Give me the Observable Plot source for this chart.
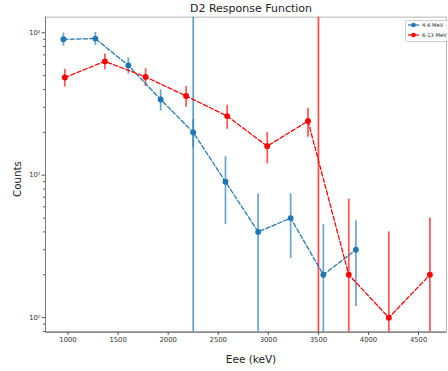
<!DOCTYPE html>
<html>
<head>
<meta charset="utf-8">
<script src="https://cdn.jsdelivr.net/npm/d3@7"></script>
<script src="https://cdn.jsdelivr.net/npm/@observablehq/plot@0.6"></script>
<style>
  html, body { margin: 0; padding: 0; background: white; overflow: hidden; }
  #wrap { position: relative; width: 448px; height: 371px; overflow: hidden; font-family: "DejaVu Sans", sans-serif; }
  #chart { position: absolute; left: 0; top: 0; }
  .lbl { position: absolute; color: #222; white-space: nowrap; }
  #title { left: 0; width: 502px; top: 2px; text-align: center; font-size: 11px; }
  #xlabel { left: 0; width: 502px; top: 353px; text-align: center; font-size: 10.5px; }
  #ylabel { left: 17px; top: 179px; font-size: 10.3px; transform: translate(-50%, -50%) rotate(-90deg); }
  #legend { position: absolute; left: 405px; top: 20px; width: 70px; height: 20px; border: 1px solid #d0d0d0; border-radius: 2px; background: rgba(255,255,255,0.8); font-size: 5.2px; color: #222; }
  .row { position: absolute; left: 1px; height: 8px; display: flex; align-items: center; }
  .row span { margin-left: 2px; }
</style>
</head>
<body>
<div id="wrap">
  <div id="chart"></div>
  <div id="title" class="lbl">D2 Response Function</div>
  <div id="xlabel" class="lbl">Eee (keV)</div>
  <div id="ylabel" class="lbl">Counts</div>
  <div id="legend"></div>
</div>
<script>
// ---- data ----
const seriesNames = ["4-6 MeV", "6-13 MeV"];
const seriesColors = ["#1f77b4", "#ff0000"];

const blueX   = [954, 1273, 1602, 1925, 2250, 2572, 2898, 3223, 3549, 3874];
const blueY   = [90, 91, 59, 34, 20, 9, 4, 5, 2, 3];
const blueErr = [9.5, 9.5, 7.7, 5.8, 4.5, 4.5, 3.4, 2.4, 2.5, 1.8];

const redX    = [968, 1368, 1774, 2179, 2589, 2989, 3396, 3803, 4203, 4613];
const redY    = [48.5, 63, 49, 36, 26, 16, 24, 2, 1, 2];
const redErr  = [6.9, 7.9, 7, 6, 5, 4, 5.5, 4.8, 3, 3];

const vlineX      = [2250, 3500];
const vlineSeries = ["4-6 MeV", "6-13 MeV"];

const xDomain = [775, 4779];
const yDomain = [0.792, 128.8];
const xTicks = [1000, 1500, 2000, 2500, 3000, 3500, 4000, 4500];
const yTicks = [1, 10, 100];
const yTickLabels = ["10\u2070", "10\u00b9", "10\u00b2"];
const yMinorTicks = [0.8, 0.9, 2, 3, 4, 5, 6, 7, 8, 9, 20, 30, 40, 50, 60, 70, 80, 90];

// ---- build table ----
const rows = [];
function addSeries(name, xs, ys, es) {
  xs.forEach((x, i) => rows.push({
    series: name, x, y: ys[i],
    lo: Math.max(ys[i] - es[i], 1e-3),
    hi: ys[i] + es[i]
  }));
}
addSeries(seriesNames[0], blueX, blueY, blueErr);
addSeries(seriesNames[1], redX, redY, redErr);
const vlines = vlineX.map((x, i) => ({x, series: vlineSeries[i]}));

const chart = Plot.plot({
  width: 458,
  height: 371,
  marginLeft: 46,
  marginRight: 2,
  marginTop: 17,
  marginBottom: 32,
  style: {fontFamily: "DejaVu Sans, sans-serif", fontSize: "7px", color: "#333", background: "white"},
  x: {domain: xDomain},
  y: {type: "log", domain: yDomain, clamp: true},
  color: {domain: seriesNames, range: seriesColors},
  marks: [
    Plot.frame({stroke: "#aaa", strokeWidth: 0.9}),
    Plot.ruleY([yDomain[0]], {stroke: "#555", strokeWidth: 1}),
    Plot.ruleX([xDomain[0]], {stroke: "#777", strokeWidth: 1}),
    Plot.axisX({ticks: xTicks, tickSize: 3.5, tickPadding: 2, tickFormat: d3.format("d"), label: null, stroke: "#555"}),
    Plot.axisY({ticks: yTicks, tickSize: 3.5, tickPadding: 1.5, tickFormat: d => yTickLabels[yTicks.indexOf(d)], label: null, stroke: "#555"}),
    Plot.axisY({ticks: yMinorTicks, tickSize: 2, tickFormat: () => "", label: null, stroke: "#555"}),
    Plot.ruleX(rows, {x: "x", y1: "lo", y2: "hi", stroke: "series", strokeWidth: 1.8, strokeOpacity: 0.65}),
    Plot.ruleX(vlines, {x: "x", stroke: "series", strokeWidth: 1.8, strokeOpacity: 0.7}),
    Plot.line(rows, {x: "x", y: "y", z: "series", stroke: "series", strokeWidth: 1.3, strokeDasharray: "4.5,2.2"}),
    Plot.dot(rows, {x: "x", y: "y", fill: "series", r: 3})
  ]
});
document.getElementById("chart").appendChild(chart);

// ---- legend ----
const legend = document.getElementById("legend");
seriesNames.forEach((name, i) => {
  const row = document.createElement("div");
  row.className = "row";
  row.style.top = (i === 0 ? 0 : 10) + "px";
  const c = seriesColors[i];
  row.innerHTML = `<svg width="13" height="8"><line x1="1" x2="12" y1="4" y2="4" stroke="${c}" stroke-width="1.2"/><circle cx="6.5" cy="4" r="2.3" fill="${c}"/></svg><span>${name}</span>`;
  legend.appendChild(row);
});
</script>
</body>
</html>
